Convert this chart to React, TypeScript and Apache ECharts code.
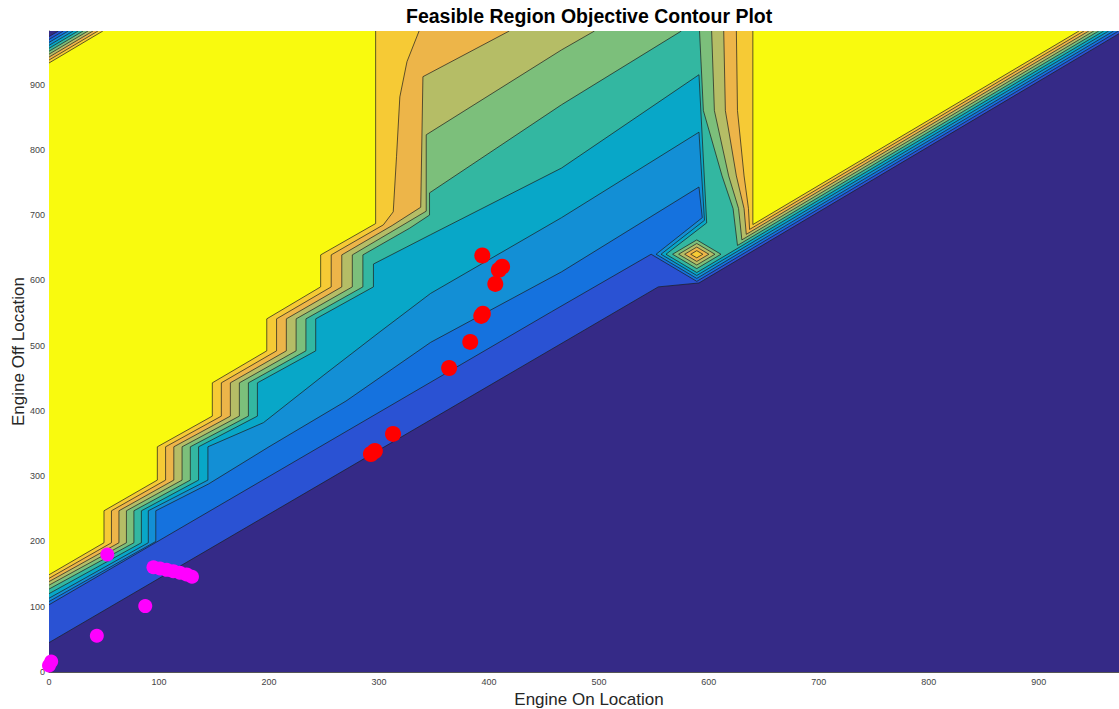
import React, { useEffect, useRef } from "react";
import * as echarts from "echarts";

// ---------- axes ----------
const X_MAX = 982;
const Y_MAX = 982;
const TICK_STEP = 100;

// ---------- contour band colours (lowest level -> highest) ----------
const fillColors = [
  "#352A87", "#2A52D3", "#1572DE", "#138FD5", "#08A7C8", "#33B7A1",
  "#7CBF7B", "#B5BD66", "#EDB549", "#F6CA35", "#F9FA0E",
];

// ---------- contour lines (data coords: [engine on, engine off]) ----------
const contour1 = [[0, 45], [487, 524], [554, 590], [591, 596], [977, 982]];
const contour2 = [[0, 103], [457, 552], [547.5, 640], [589, 598.5], [972.5, 982]];
const contour3 = [[0, 108], [97.1, 200], [97.1, 247], [145, 288], [200, 345], [270, 415], [347, 505], [466, 613], [591, 743], [594, 696], [552, 640], [589, 603], [968, 982]];
const contour4 = [[0, 113], [90.3, 198], [90.3, 247], [144.5, 294], [144.5, 345], [195, 382], [250, 455], [300, 520], [347, 580], [466, 696], [591, 827], [596, 692], [556.5, 640], [589, 607.5], [963.5, 982]];
const contour5 = [[0, 120], [84, 198], [84, 247], [136, 294], [136, 345], [189.5, 392], [189.5, 443], [242.5, 492], [242.5, 541], [295, 590], [295, 625], [347, 670], [466, 772], [591, 915], [598, 688], [561, 640], [589, 612], [959, 982]];
const contour6Left = [[0, 127], [77.2, 198], [77.2, 247], [128.5, 294], [128.5, 345], [181.3, 392], [181.3, 443], [233.6, 492], [233.6, 541], [285.4, 590], [285.4, 639], [328, 680], [346, 700], [346, 734], [466, 869], [575, 982]];
const contour6Right = [[591.5, 982], [595, 860], [612, 760], [622, 710], [626, 653.5], [954.5, 982]];
const contour7Left = [[0, 133], [70.4, 198], [70.4, 247], [121, 294], [121, 345], [173.1, 392], [173.1, 443], [224.7, 492], [224.7, 541], [275.8, 590], [275.8, 639], [320, 683], [343, 706], [343, 823], [466, 953], [496, 982]];
const contour7Right = [[602.5, 982], [605, 860], [618, 760], [627, 710], [630, 662], [950, 982]];
const contour8Left = [[0, 138.5], [63.6, 198], [63.6, 247], [113.5, 294], [113.5, 345], [164.9, 392], [164.9, 443], [215.8, 492], [215.8, 541], [266.2, 590], [266.2, 639], [312, 684], [338, 712], [340, 912], [418.5, 982]];
const contour8Right = [[613.5, 982], [615, 860], [625, 760], [632, 710], [634, 670.5], [945.5, 982]];
const contour9Left = [[0, 143.5], [56.8, 198], [56.8, 247], [106, 294], [106, 345], [156.7, 392], [156.7, 443], [206.9, 492], [206.9, 541], [256.6, 590], [256.6, 639], [304, 685], [313, 705], [316, 790], [319, 881], [325.5, 935], [336.5, 982]];
const contour9Right = [[625, 982], [626, 860], [632, 760], [636, 710], [637, 678], [941, 982]];
const contour10Left = [[0, 149], [50, 198], [50, 247], [98.5, 294], [98.5, 345], [148.5, 392], [148.5, 443], [198, 492], [198, 541], [247, 590], [247, 639], [297, 687], [297, 982]];
const contour10Right = [[640, 982], [640, 685.5], [936.5, 982]];

// top-left corner: level k boundary is the line y = x + offset
const cornerOffsets = [973.5, 969, 964.5, 960, 955.5, 951, 946.5, 942, 937.5, 933];

// small peak (levels 6..9 are closed islands)
const peakCenter = [589, 640];
const peakRadii = [22, 16.5, 11, 5.5];

// ---------- scatter points ----------
const magentaPoints = [
  [0, 10], [2, 16], [43.5, 55.6], [87.5, 101], [53, 180],
  [95, 160.5], [101, 158.5], [107, 156.5], [113, 154.5], [119, 152], [125, 149.5], [130, 146],
];
const redPoints = [
  [394, 638], [409, 616], [412, 621], [405.8, 594.5], [393, 545.5], [394.5, 549],
  [383, 505.7], [363.8, 465.8], [312.8, 364.7], [292.7, 334], [296.3, 338.6],
];

const FONT = "'Liberation Sans', Arial, Helvetica, sans-serif";

type Shape = { pts: number[][]; fill?: string; closed?: boolean };

function buildShapes(): Shape[] {
  const shapes: Shape[] = [];
  shapes.push({ pts: [[0, 0], [X_MAX, 0], [X_MAX, Y_MAX], [0, Y_MAX]], fill: fillColors[0] });
  const lower = [contour1, contour2, contour3, contour4, contour5];
  const lefts = [contour6Left, contour7Left, contour8Left, contour9Left, contour10Left];
  const rights = [contour6Right, contour7Right, contour8Right, contour9Right, contour10Right];
  const strokes: Shape[] = [];
  for (let k = 1; k <= 10; k++) {
    const c = cornerOffsets[k - 1];
    const corner = [[Y_MAX - c, Y_MAX], [0, c]];
    const color = fillColors[k];
    if (k <= 5) {
      const line = lower[k - 1];
      shapes.push({ pts: [...line, ...corner], fill: color });
      strokes.push({ pts: line });
    } else {
      const L = lefts[k - 6];
      const R = rights[k - 6];
      shapes.push({ pts: [...L, ...corner], fill: color });
      shapes.push({ pts: R, fill: color });
      strokes.push({ pts: L });
      strokes.push({ pts: R });
      if (k <= 9) {
        const r = peakRadii[k - 6];
        const [cx, cy] = peakCenter;
        const d = [[cx - r, cy], [cx, cy - r], [cx + r, cy], [cx, cy + r]];
        shapes.push({ pts: d, fill: color });
        strokes.push({ pts: d, closed: true });
      }
    }
    strokes.push({ pts: [[0, c], [Y_MAX - c, Y_MAX]] });
  }
  return [...shapes, ...strokes];
}

export default function App() {
  const ref = useRef<HTMLDivElement>(null);
  useEffect(() => {
    if (!ref.current) return;
    const chart = echarts.init(ref.current, undefined, { renderer: "svg" });
    const shapes = buildShapes();
    const axisCommon = {
      type: "value" as const,
      min: 0,
      interval: TICK_STEP,
      splitLine: { show: false },
      axisTick: { show: false },
      axisLine: { show: true, lineStyle: { color: "#555", width: 1 } },
      nameLocation: "middle" as const,
      nameMoveOverlap: false,
      nameTextStyle: { fontFamily: FONT, fontSize: 17, color: "#262626" },
    };
    chart.setOption({
      animation: false,
      backgroundColor: "#ffffff",
      title: {
        text: "Feasible Region Objective Contour Plot",
        left: 406,
        top: 6,
        padding: 0,
        textStyle: { fontFamily: FONT, fontWeight: "bold", fontSize: 19.5, color: "#000" },
      },
      grid: { left: 49, right: -10, top: 31, bottom: 37, containLabel: false, outerBoundsMode: "none" },
      xAxis: {
        ...axisCommon,
        max: X_MAX,
        name: "Engine On Location",
        nameGap: 19,
        axisLabel: { fontFamily: FONT, fontSize: 9, color: "#444", margin: 5, showMaxLabel: false },
      },
      yAxis: {
        ...axisCommon,
        max: Y_MAX,
        name: "Engine Off Location",
        nameGap: 22,
        axisLabel: { fontFamily: FONT, fontSize: 9, color: "#444", margin: 4, showMaxLabel: false },
      },
      series: [
        {
          type: "custom",
          coordinateSystem: "cartesian2d",
          silent: true,
          clip: true,
          data: shapes.map((_, i) => [0, 0, i]),
          renderItem: (params: any, api: any) => {
            const s = shapes[params.dataIndex];
            const points = s.pts.map((p) => api.coord(p));
            if (s.fill) {
              return { type: "polygon", shape: { points }, style: { fill: s.fill, stroke: "none" } };
            }
            if (s.closed) {
              return { type: "polygon", shape: { points }, style: { fill: "none", stroke: "#1c1c1c", lineWidth: 0.7 } };
            }
            return { type: "polyline", shape: { points }, style: { fill: "none", stroke: "#1c1c1c", lineWidth: 0.7 } };
          },
        },
        {
          type: "scatter",
          data: magentaPoints,
          symbolSize: 14,
          clip: false,
          silent: true,
          itemStyle: { color: "#FF00FF", opacity: 1 },
        },
        {
          type: "scatter",
          data: redPoints,
          symbolSize: 16,
          clip: false,
          silent: true,
          itemStyle: { color: "#FF0000", opacity: 1 },
        },
      ],
    });
    return () => chart.dispose();
  }, []);
  return <div ref={ref} style={{ position: "absolute", left: 0, top: 0, width: 1119, height: 709 }} />;
}
